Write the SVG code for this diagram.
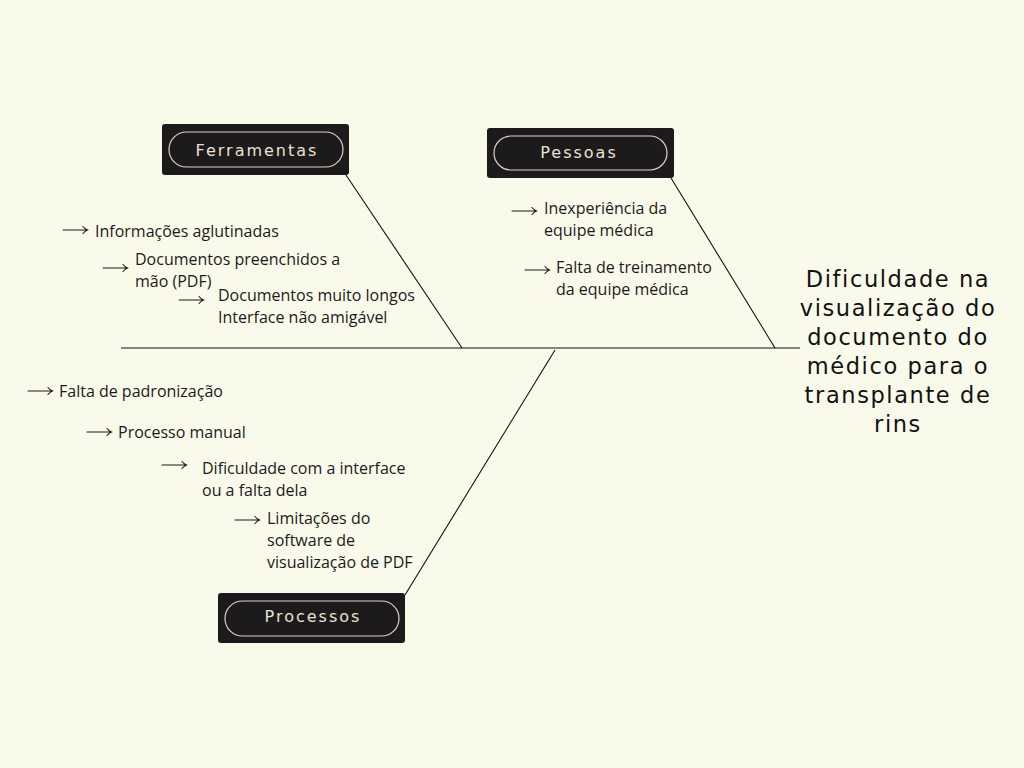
<svg xmlns="http://www.w3.org/2000/svg" width="1024" height="768" viewBox="0 0 1024 768">
<defs>
<path id="arr" d="M0 0H24M20 -3.5Q22 -1 24.5 0Q22 1 20 3.5" fill="none" stroke="#1a1a1a" stroke-width="1.1" stroke-linecap="round"/>
</defs>
<style>
.bg{fill:#fafaeb}
.box{fill:#1c1a1a}
.pill{fill:none;stroke:#d9d2c3;stroke-width:1.2}
.lbl{font-family:"DejaVu Sans",sans-serif;font-size:16px;fill:#e9e2d2;text-anchor:middle;letter-spacing:2px}
.ln{stroke:#111;stroke-width:1.1;fill:none}
.t{font-family:"Open Sans",sans-serif;font-size:16px;fill:#1a1a1a}
.title{font-family:"DejaVu Sans",sans-serif;font-size:22.5px;fill:#111;text-anchor:middle;letter-spacing:1.6px}
</style>
<rect class="bg" width="1024" height="768"/>
<g id="connectors">
<line class="ln" x1="121" y1="348" x2="800" y2="348"/>
<line class="ln" x1="346" y1="175" x2="462" y2="348"/>
<line class="ln" x1="671" y1="178" x2="775" y2="348"/>
<line class="ln" x1="555" y1="350" x2="405" y2="595"/>
</g>
<g id="ferramentas">
<rect class="box" x="162" y="124" width="187" height="51" rx="3"/>
<rect class="pill" x="169" y="132" width="174" height="35" rx="17.5"/>
<text class="lbl" x="257" y="156">Ferramentas</text>
</g>
<g id="pessoas">
<rect class="box" x="487" y="128" width="187" height="50" rx="3"/>
<rect class="pill" x="494" y="136" width="173" height="34" rx="17"/>
<text class="lbl" x="579" y="158">Pessoas</text>
</g>
<g id="processos">
<rect class="box" x="218" y="593" width="187" height="50" rx="3"/>
<rect class="pill" x="225" y="601" width="174" height="35" rx="17.5"/>
<text class="lbl" x="313" y="622">Processos</text>
</g>
<g id="causa-ferramentas">
<use href="#arr" x="63" y="230"/>
<text class="t" x="95" y="237">Informações aglutinadas</text>
<use href="#arr" x="103" y="268"/>
<text class="t" x="135" y="265">Documentos preenchidos a</text>
<text class="t" x="135" y="287">mão (PDF)</text>
<use href="#arr" x="179" y="300"/>
<text class="t" x="218" y="301">Documentos muito longos</text>
<text class="t" x="218" y="323">Interface não amigável</text>
</g>
<g id="causa-pessoas">
<use href="#arr" x="512" y="211"/>
<text class="t" x="544" y="214">Inexperiência da</text>
<text class="t" x="544" y="236">equipe médica</text>
<use href="#arr" x="525" y="270"/>
<text class="t" x="556" y="273">Falta de treinamento</text>
<text class="t" x="556" y="295">da equipe médica</text>
</g>
<g id="causa-processos">
<use href="#arr" x="28" y="391"/>
<text class="t" x="59" y="397">Falta de padronização</text>
<use href="#arr" x="87" y="432"/>
<text class="t" x="118" y="438">Processo manual</text>
<use href="#arr" x="162" y="465"/>
<text class="t" x="202" y="474">Dificuldade com a interface</text>
<text class="t" x="202" y="496">ou a falta dela</text>
<use href="#arr" x="235" y="520"/>
<text class="t" x="267" y="524">Limitações do</text>
<text class="t" x="267" y="546">software de</text>
<text class="t" x="267" y="568">visualização de PDF</text>
</g>
<g id="efeito">
<text class="title" x="898" y="287">Dificuldade na</text>
<text class="title" x="898" y="316">visualização do</text>
<text class="title" x="898" y="345">documento do</text>
<text class="title" x="898" y="374">médico para o</text>
<text class="title" x="898" y="403">transplante de</text>
<text class="title" x="898" y="432">rins</text>
</g>
</svg>
